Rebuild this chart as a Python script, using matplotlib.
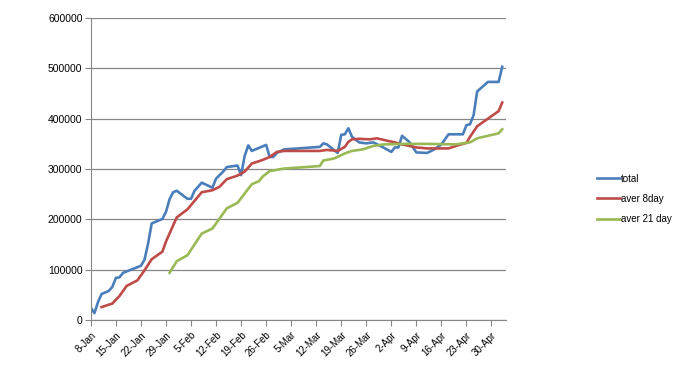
import pandas as pd
import matplotlib.pyplot as plt

# values (year assumed, non-leap)
total_dates = ["01-08", "01-09", "01-10", "01-11", "01-13", "01-14", "01-15", "01-16",
               "01-17", "01-22", "01-23", "01-24", "01-25", "01-28", "01-29", "01-30",
               "01-31", "02-01", "02-04", "02-05", "02-06", "02-08", "02-11", "02-12",
               "02-14", "02-15", "02-18", "02-19", "02-20", "02-21", "02-22", "02-26",
               "02-27", "02-28", "03-01", "03-03", "03-13", "03-14", "03-15", "03-18",
               "03-19", "03-20", "03-21", "03-22", "03-24", "03-26", "03-28", "03-31",
               "04-02", "04-03", "04-04", "04-05", "04-07", "04-09", "04-12", "04-14",
               "04-16", "04-18", "04-22", "04-23", "04-24", "04-25", "04-26", "04-29",
               "05-02", "05-03"]
total = [25000, 14000, 36000, 52000, 58000, 66000, 84000, 85000,
         94000, 108000, 120000, 152000, 192000, 201000, 215000, 240000,
         254000, 257000, 241000, 241000, 257000, 273000, 263000, 281000,
         295000, 304000, 307000, 288000, 326000, 347000, 336000, 348000,
         324000, 324000, 332000, 339000, 344000, 351000, 349000, 332000,
         368000, 369000, 381000, 364000, 353000, 351000, 353000, 342000,
         334000, 343000, 343000, 366000, 354000, 333000, 332000, 339000,
         349000, 369000, 369000, 387000, 389000, 407000, 454000, 473000,
         473000, 503000]

aver8_dates = ["01-11", "01-14", "01-16", "01-18", "01-21", "01-23", "01-25", "01-28",
               "01-29", "02-01", "02-04", "02-08", "02-11", "02-13", "02-15", "02-18",
               "02-20", "02-22", "02-25", "02-27", "03-01", "03-03", "03-13", "03-15",
               "03-18", "03-20", "03-21", "03-22", "03-24", "03-27", "03-29", "04-01",
               "04-03", "04-05", "04-09", "04-12", "04-18", "04-21", "04-23", "04-24",
               "04-26", "04-29", "05-02", "05-03"]
aver8 = [26000, 33000, 48000, 68000, 79000, 99000, 121000, 136000,
         156000, 204000, 220000, 254000, 258000, 265000, 280000, 287000,
         295000, 311000, 318000, 324000, 334000, 336000, 336000, 338000,
         336000, 344000, 354000, 359000, 360000, 359000, 361000, 356000,
         353000, 349000, 343000, 341000, 341000, 348000, 352000, 364000,
         385000, 400000, 415000, 432000]

aver21_dates = ["01-30", "02-01", "02-04", "02-08", "02-11", "02-15", "02-18", "02-22",
                "02-24", "02-25", "02-27", "03-03", "03-13", "03-14", "03-17", "03-20",
                "03-22", "03-25", "03-28", "03-31", "04-06", "04-12", "04-20", "04-24",
                "04-26", "05-02", "05-03"]
aver21 = [94000, 117000, 129000, 172000, 182000, 222000, 233000, 270000,
          276000, 285000, 296000, 301000, 306000, 317000, 321000, 331000,
          336000, 339000, 346000, 349000, 350000, 350000, 349000, 353000,
          361000, 371000, 379000]


def to_dates(md):
    return pd.to_datetime(["2019-" + d for d in md])


plt.rcParams['font.family'] = ['Liberation Sans', 'DejaVu Sans']

fig = plt.figure(figsize=(6.78, 3.9), dpi=100)
ax = fig.add_axes([0.134, 0.179, 0.612, 0.775])

ax.plot(to_dates(total_dates), total, color='#4A7EBB', lw=1.9, label='total')
ax.plot(to_dates(aver8_dates), aver8, color='#BE4B48', lw=1.9, label='aver 8day')
ax.plot(to_dates(aver21_dates), aver21, color='#98B954', lw=1.9, label='aver 21 day')

ax.set_ylim(0, 600000)
ax.set_yticks(range(0, 600001, 100000))
ax.set_xlim(pd.Timestamp("2019-01-08"), pd.Timestamp("2019-05-04"))
ticks = pd.date_range("2019-01-08", "2019-04-30", freq="7D")
ax.set_xticks(ticks)
ax.set_xticklabels([f"{d.day}-{d.strftime('%b')}" for d in ticks], rotation=45,
                   ha='right', rotation_mode='anchor', fontsize=7)
ax.tick_params(axis='y', labelsize=7.5, length=4, color='#868686', pad=2)
ax.tick_params(axis='x', length=4, color='#868686', pad=3)

ax.grid(axis='y', color='#868686', lw=0.9)
ax.set_axisbelow(True)
for s in ['top', 'right']:
    ax.spines[s].set_visible(False)
for s in ['left', 'bottom']:
    ax.spines[s].set_color('#868686')

fig.legend(loc='center left', bbox_to_anchor=(0.868, 0.49), frameon=False,
           fontsize=7, handlelength=2.3, handletextpad=0.1, labelspacing=1.05)

fig.savefig("out.png", dpi=100)
